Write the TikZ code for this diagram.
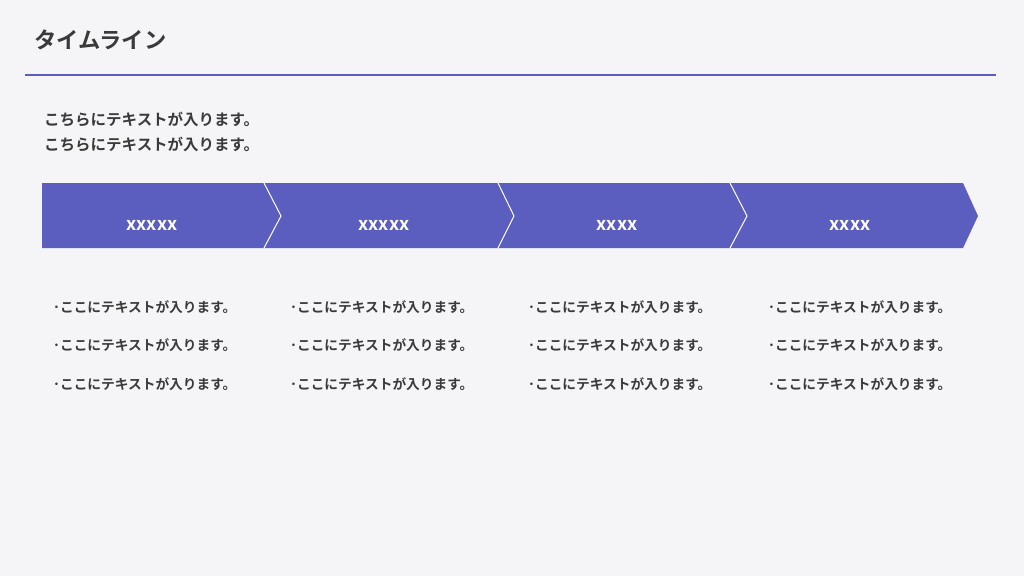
\documentclass[tikz,border=0pt]{standalone}
\usepackage{fontspec}
\newfontfamily\jp{Noto Sans CJK JP}[BoldFont={* Bold}]
\definecolor{bg}{HTML}{F5F5F7}
\definecolor{band}{HTML}{5B5EBE}
\definecolor{ink}{HTML}{3A3A3A}
\begin{document}
\begin{tikzpicture}[x=1pt,y=-1pt,
  seg/.style={fill=band},
  sep/.style={draw=white,line width=1pt,line join=miter},
  lbl/.style={text=white,font=\jp\bfseries\fontsize{18}{18}\selectfont,inner sep=0pt},
  itm/.style={text=ink,font=\jp\bfseries\fontsize{13.7}{14}\selectfont,anchor=west,inner sep=0pt}]
\useasboundingbox[fill=bg] (0,0) rectangle (1024,576);
\node[anchor=west,inner sep=0pt,text=ink,font=\jp\bfseries\fontsize{22.3}{23}\selectfont] (title) at (34,40) {タイムライン};
\draw[band,line width=2pt] (25,75) coordinate (l1) -- (996,75) coordinate (l2);
\node[anchor=west,inner sep=0pt,text=ink,font=\jp\bfseries\fontsize{15.5}{16}\selectfont] (intro1) at (44,119) {こちらにテキストが入ります。};
\node[anchor=west,inner sep=0pt,text=ink,font=\jp\bfseries\fontsize{15.5}{16}\selectfont] (intro2) at (44,144) {こちらにテキストが入ります。};
% segments
\path[seg] (42,183) -- (264,183) -- (281,216) -- (264,248) -- (42,248) -- cycle;
\path[seg] (264,183) -- (498,183) -- (514,216) -- (498,248) -- (264,248) -- (281,216) -- cycle;
\path[seg] (498,183) -- (730,183) -- (747,216) -- (730,248) -- (498,248) -- (514,216) -- cycle;
\path[seg] (730,183) -- (963,183) -- (978,216) -- (963,248) -- (730,248) -- (747,216) -- cycle;
\draw[sep] (264,183) -- (281,216) -- (264,248);
\draw[sep] (498,183) -- (514,216) -- (498,248);
\draw[sep] (730,183) -- (747,216) -- (730,248);
\node[lbl] (s1) at (152,225) {xxxxx};
\node[lbl] (s2) at (384,225) {xxxxx};
\node[lbl] (s3) at (617,225) {xxxx};
\node[lbl] (s4) at (850,225) {xxxx};
\foreach \cx/\n in {53/a,290/b,528/c,768/d}{
  \foreach \cy/\m in {307/1,345/2,384/3}{
    \node[itm] (\n\m) at (\cx,\cy) {･ここにテキストが入ります。};
  }
}
\end{tikzpicture}
\end{document}
